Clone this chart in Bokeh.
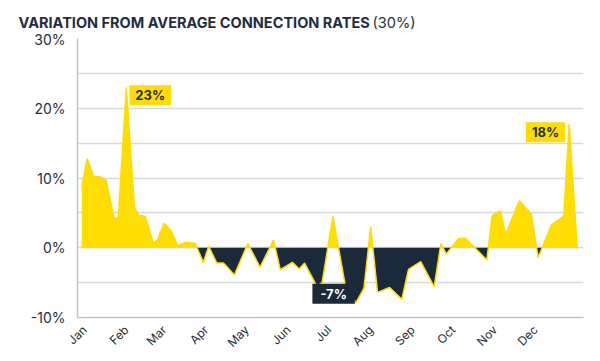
import math
from bokeh.plotting import figure
from bokeh.layouts import column
from bokeh.models import Range1d, FixedTicker, PrintfTickFormatter, Label
from bokeh.core.properties import value
from bokeh.embed import file_html
from bokeh.resources import INLINE

# ---- data (day of year, % variation) ----
days = [-2, 2, 7, 11, 16, 22, 25, 31, 37, 40, 45, 51, 54, 59, 64, 69, 75, 82, 88, 92,
        98, 103, 111, 121, 130, 140, 145, 154, 159, 163, 172, 176, 184, 193, 201, 207,
        212, 217, 226, 235, 240, 249, 259, 264, 268, 277, 282, 298, 302, 308, 312, 322,
        331, 336, 346, 355, 359, 365]
values = [8.8, 12.8, 10.1, 10.2, 9.7, 4.2, 4.3, 23.0, 5.7, 4.7, 4.5, 0.6, 1.1, 3.5, 2.5,
          0.3, 0.8, 0.6, -2.1, 0.2, -2.2, -2.2, -3.9, 0.6, -2.8, 1.1, -3.15, -2.1, -3.05,
          -2.2, -5.5, -5.0, 4.5, -5.25, -7.9, -5.8, 3.0, -6.4, -5.7, -7.4, -3.1, -2.0,
          -5.6, 0.6, -0.9, 1.3, 1.4, -1.75, 4.6, 5.3, 1.9, 6.75, 4.8, -1.4, 3.3, 4.5,
          17.7, -0.2]
month_starts = [0, 31, 59, 90, 120, 151, 181, 212, 243, 273, 304, 334]
month_labels = ["Jan", "Feb", "Mar", "Apr", "May", "Jun", "Jul", "Aug", "Sep", "Oct", "Nov", "Dec"]
y_ticks = [-10, 0, 10, 20, 30]
y_minor = [-5, 5, 15, 25]
callouts = [(7, "23%", "pos_left"), (56, "18%", "pos_right"), (34, "-7%", "neg")]
title_bold = "VARIATION FROM AVERAGE CONNECTION RATES"
title_rest = "(30%)"

YELLOW = "#ffdd00"
NAVY = "#1b2a3a"
TEXT = "#1f2e3e"
GRID = "#d2dbe3"
AXIS = "#b9c5d0"
FONT = "Inter"

# ---- title strip (pixel-unit ranges, origin bottom-left) ----
tf = figure(width=600, height=30, output_backend="svg", toolbar_location=None, title=None,
            x_range=Range1d(0, 600), y_range=Range1d(0, 30),
            min_border_left=0, min_border_right=0, min_border_top=0, min_border_bottom=0,
            x_axis_type=None, y_axis_type=None, frame_align=False)
tf.outline_line_color = None
tf.text(x=[18], y=[8.5], text=[title_bold], text_font=value(FONT), text_font_size="14.5px",
        text_font_style="bold", text_baseline="middle", text_color=TEXT)
tf.text(x=[372], y=[8.5], text=[title_rest], text_font=value(FONT), text_font_size="14.5px",
        text_baseline="middle", text_color=TEXT)

# insert zero crossings so that positive / negative fills meet exactly
xs, ys = [], []
for i in range(len(days)):
    if i > 0:
        v0, v1 = values[i - 1], values[i]
        if (v0 > 0 and v1 < 0) or (v0 < 0 and v1 > 0):
            t = v0 / (v0 - v1)
            xs.append(days[i - 1] + t * (days[i] - days[i - 1]))
            ys.append(0.0)
    xs.append(days[i])
    ys.append(values[i])

p = figure(width=600, height=331, output_backend="svg", toolbar_location=None,
           x_range=Range1d(-5.2, 369.6), y_range=Range1d(-10, 30),
           min_border_left=77, min_border_right=17, min_border_top=8, min_border_bottom=44,
           frame_align=False)
p.outline_line_color = None

p.varea(x=xs, y1=0, y2=[max(v, 0) for v in ys], fill_color=YELLOW)
p.varea(x=xs, y1=0, y2=[min(v, 0) for v in ys], fill_color=NAVY)
p.line(x=xs, y=ys, line_color=YELLOW, line_width=1.5)

# axes
p.xaxis.ticker = FixedTicker(ticks=month_starts)
p.xaxis.major_label_overrides = {m: l for m, l in zip(month_starts, month_labels)}
p.xaxis.major_label_orientation = math.pi / 4
p.yaxis.ticker = FixedTicker(ticks=y_ticks, minor_ticks=y_minor)
p.yaxis.formatter = PrintfTickFormatter(format="%d%%")
for ax in (p.xaxis[0], p.yaxis[0]):
    ax.axis_line_color = AXIS
    ax.axis_line_width = 1.5
    ax.major_tick_line_color = None
    ax.minor_tick_line_color = None
    ax.major_label_text_color = TEXT
    ax.major_label_text_font = FONT
p.yaxis.major_label_text_font_size = "14px"
p.yaxis.major_label_standoff = 6
p.xaxis.major_label_text_font_size = "12px"
p.xaxis.major_label_standoff = 4
p.xgrid.grid_line_color = None
p.ygrid.grid_line_color = GRID
p.ygrid.grid_line_width = 1.5
p.ygrid.minor_grid_line_color = GRID
p.ygrid.minor_grid_line_width = 1.5

# callouts
for idx, txt, kind in callouts:
    if kind == "pos_left":
        lab = Label(x=days[idx], y=values[idx], text=txt, x_offset=3, y_offset=2,
                    text_align="left", text_baseline="top", background_fill_color=YELLOW,
                    text_color=TEXT, padding=dict(left=6, right=6, top=2, bottom=2))
    elif kind == "pos_right":
        lab = Label(x=days[idx], y=values[idx], text=txt, x_offset=-4, y_offset=2,
                    text_align="right", text_baseline="top", background_fill_color=YELLOW,
                    text_color=TEXT, padding=dict(left=6, right=6, top=2, bottom=2))
    else:
        lab = Label(x=days[idx], y=values[idx], text=txt, x_offset=-1, y_offset=-1,
                    text_align="right", text_baseline="bottom", background_fill_color=NAVY,
                    text_color="white", padding=dict(left=8, right=8, top=2, bottom=2))
    lab.text_font = FONT
    lab.text_font_size = "13px"
    lab.text_font_style = "bold"
    p.add_layout(lab)

layout = column(tf, p, spacing=0)
open("out.html", "w").write(file_html(layout, INLINE))
